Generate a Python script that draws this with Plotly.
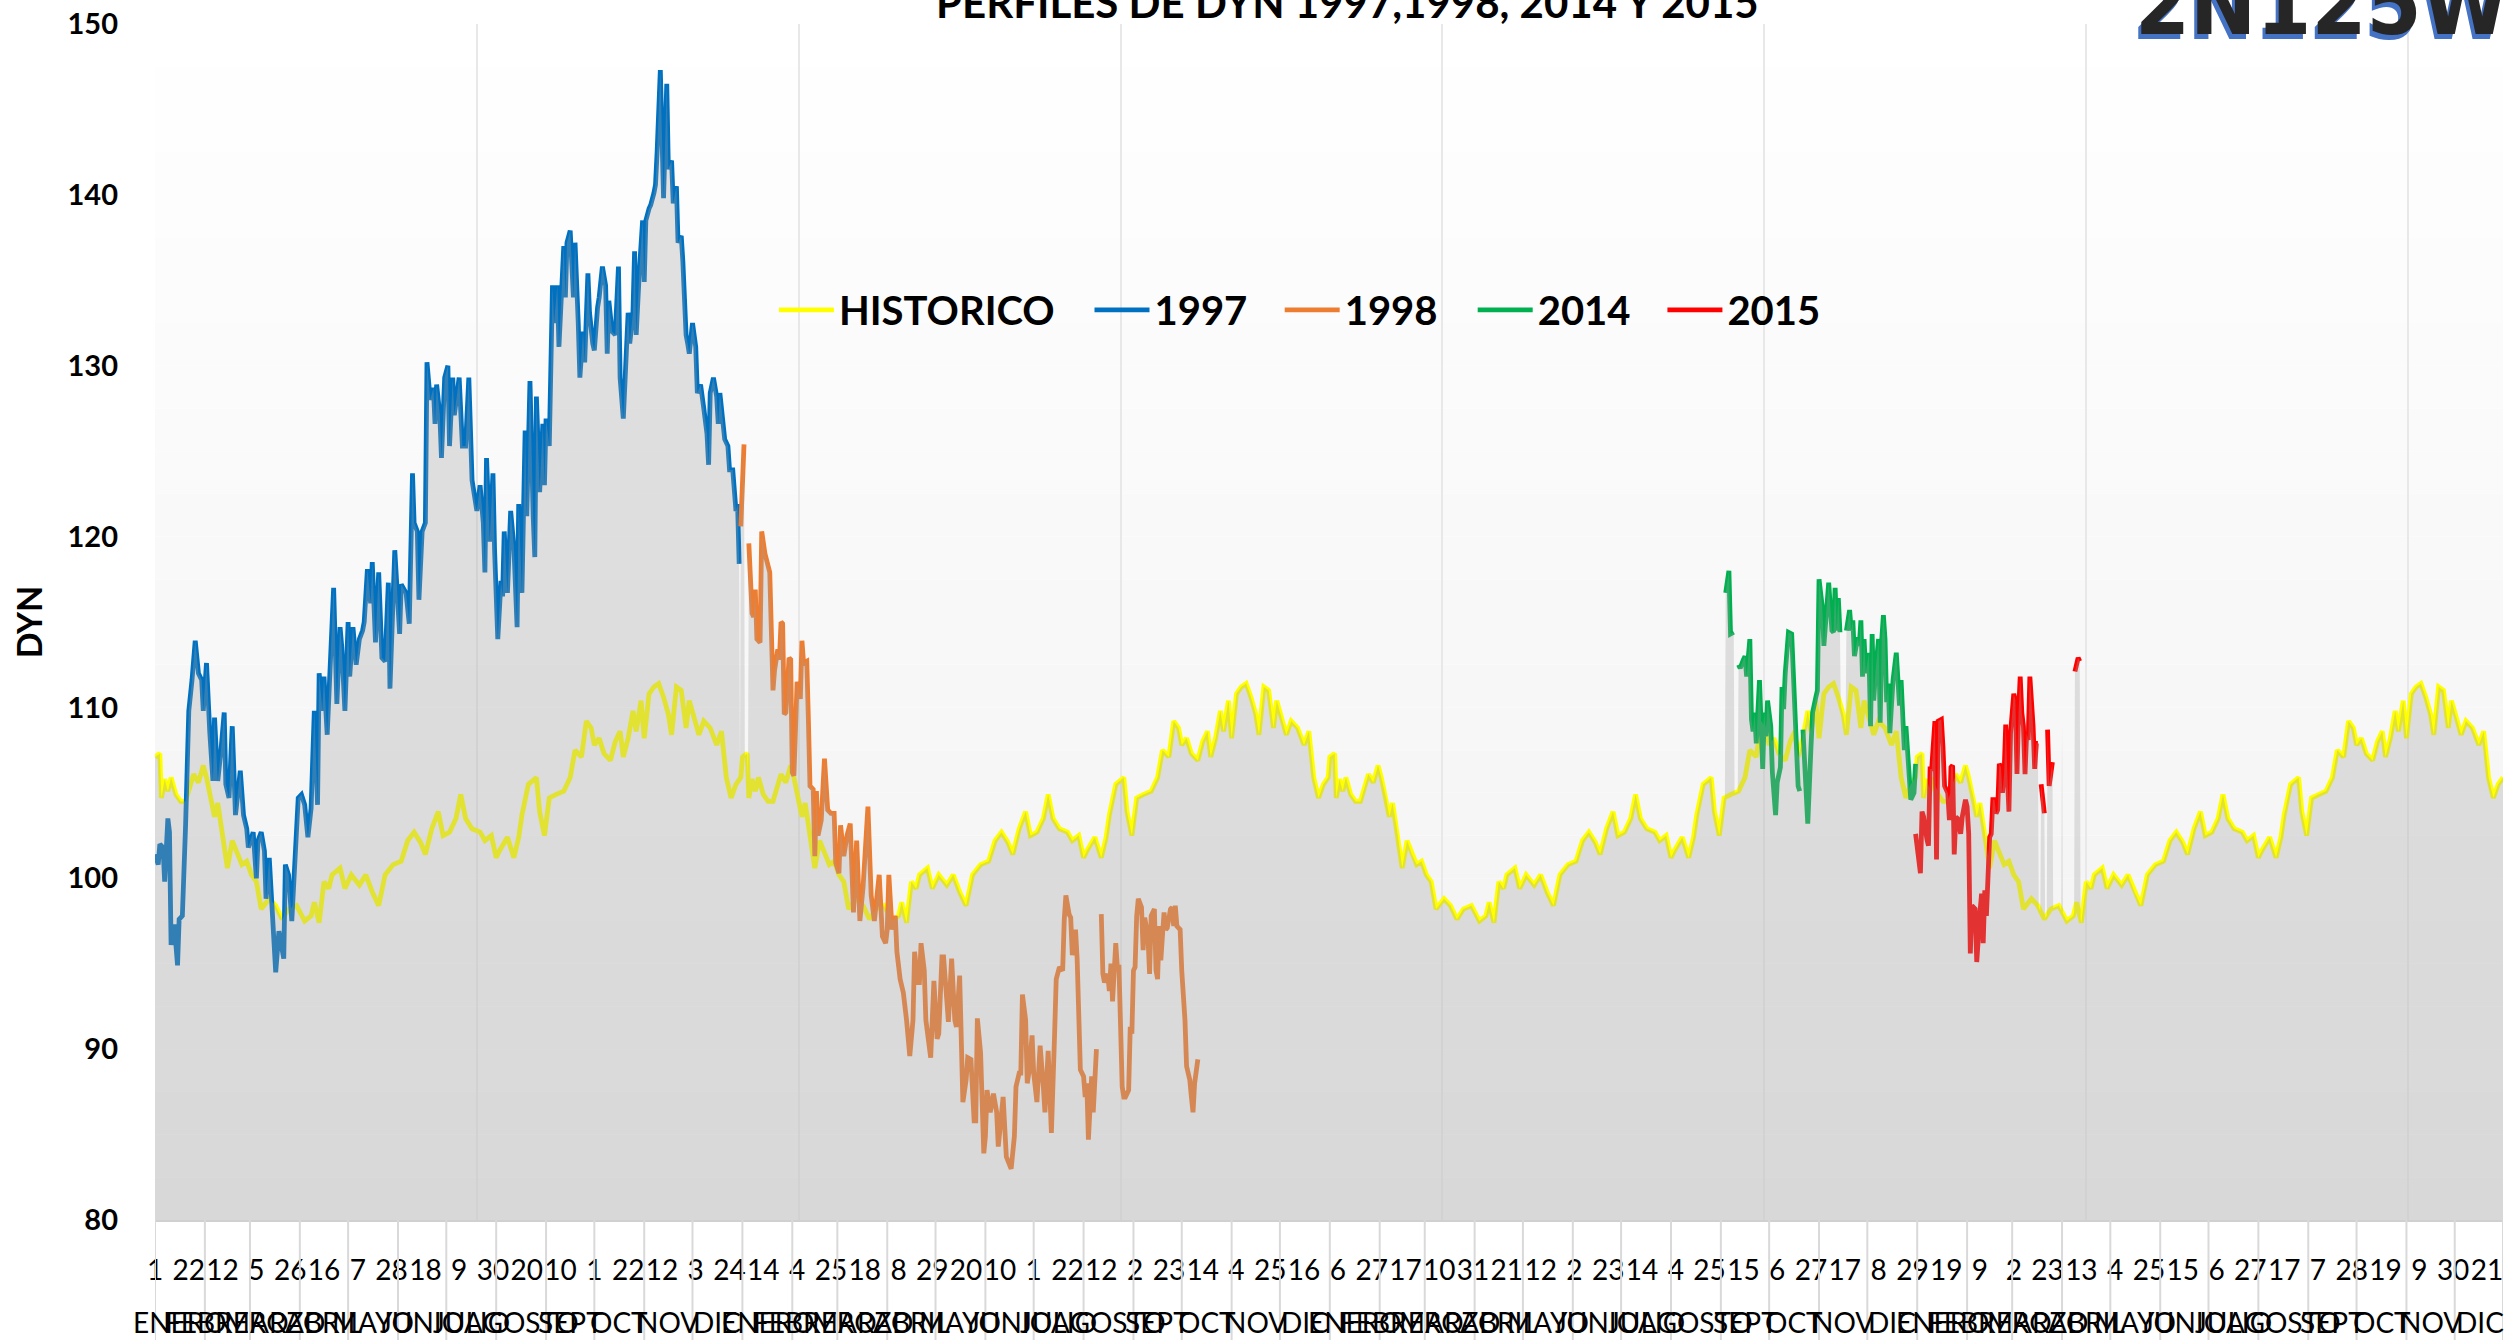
import numpy as np
import plotly.graph_objects as go

TITLE = "PERFILES DE DYN 1997,1998, 2014 Y 2015"
LOGO = "2N125W"
Y_TITLE = "DYN"

# ---------------- data (day index, DYN value); None = missing value ----------------
# HISTORICO: day of year -> value (same climatology every year)
HIST = [(0,107.1),(3,107.3),(4,104.7),(6,105.8),(8,105.1),(10,105.9),(13,104.9),(16,104.5),(19,104.5),
        (24,106.1),(27,105.6),(30,106.6),(32,105.9),(35,104.7),(37,103.6),(39,104.4),(42,102.7),(45,100.6),
        (48,102.2),(51,101.4),(54,100.8),(57,101.0),(60,100.2),(63,99.8),(66,98.2),(71,98.8),(75,98.4),
        (79,97.6),(83,98.2),(88,98.4),(93,97.5),(97,97.8),(99,98.6),(102,97.4),(105,99.8),(108,99.4),
        (110,100.2),(115,100.6),(118,99.4),(122,100.2),(127,99.6),(131,100.2),(135,99.2),(139,98.4),
        (143,100.2),(148,100.8),(153,101.0),(157,102.2),(161,102.7),(165,102.1),(168,101.4),(172,102.9),
        (176,103.9),(179,102.5),(183,102.7),(187,103.5),(190,104.9),(193,103.5),(197,102.9),(202,102.7),
        (205,102.2),(209,102.5),(212,101.2),(214,101.6),(219,102.4),(223,101.2),(226,102.4),(228,103.7),
        (232,105.5),(237,105.9),(239,103.9),(242,102.5),(245,104.7),(249,104.9),(254,105.1),(258,105.9),
        (261,107.5),(265,107.1),(268,109.2),(271,108.8),(273,107.8),(276,108.2),(279,107.3),(283,106.9),
        (286,108.0),(289,108.6),(291,107.1),(294,108.2),(297,109.8),(299,108.6),(302,110.4),(304,108.2),
        (307,110.8),(310,111.2),(313,111.4),(316,110.6),(319,109.6),(321,108.4),(324,111.2),(327,111.0),
        (330,108.8),(332,110.4),(335,109.4),(338,108.4),(341,109.2),(345,108.8),(349,107.8),(352,108.6),
        (355,105.9),(358,104.7),(361,105.5),(364,105.9)]

S1997 = [(0,101.4),(2,100.8),(3,102.0),(5,101.8),(6,99.8),(8,103.5),(9,102.7),(10,96.1),(12,97.3),(14,94.9),
         (15,97.6),(17,97.8),(19,103.1),(21,109.8),(23,111.6),(25,113.9),(27,112.0),(29,111.6),(30,109.8),
         (32,112.6),(34,108.6),(36,105.7),(37,109.4),(39,105.7),(41,107.5),(43,109.7),(44,105.5),(46,104.7),
         (48,108.9),(50,103.7),(53,106.3),(55,103.7),(57,102.9),(58,101.8),(61,102.7),(63,100.0),(64,102.2),
         (66,102.7),(68,101.6),(69,98.8),(71,101.2),(73,97.8),(75,94.5),(77,96.9),(80,95.3),(81,100.8),
         (83,100.2),(85,97.5),(87,101.2),(89,104.7),(91,104.9),(93,104.3),(95,102.4),(97,104.1),(99,109.8),
         (101,104.3),(102,112.0),(104,109.8),(105,111.8),(107,108.4),(111,117.0),(113,110.2),(115,114.7),
         (116,113.6),(118,109.8),(120,115.0),(121,111.8),(123,114.7),(125,112.5),(127,114.0),(129,114.5),
         (130,115.0),(132,118.1),(134,116.1),(135,118.5),(137,113.8),(139,117.9),(141,112.9),(143,112.7),
         (145,117.3),(146,111.1),(148,117.0),(149,119.2),(152,114.3),(153,117.2),(156,116.7),(158,114.9),
         (160,123.7),(161,120.8),(163,120.3),(164,116.3),(166,120.3),(168,120.8),(169,130.2),(171,128.0),
         (173,128.7),(174,126.6),(175,128.9),(177,127.1),(178,124.6),(180,129.3),(182,130.0),(183,125.3),
         (185,129.3),(186,127.1),(189,129.3),(191,125.3),(193,125.3),(195,129.3),(197,123.3),(199,121.9),
         (200,121.5),(202,123.0),(204,120.8),(205,117.9),(206,124.6),(208,119.7),(210,123.7),(211,119.2),
         (213,114.0),(215,117.4),(216,116.5),(217,120.3),(219,116.7),(221,121.5),(223,119.4),(225,114.7),
         (226,121.9),(228,116.7),(230,126.2),(231,121.2),(233,129.1),(235,121.2),(236,118.8),(237,128.2),
         (239,122.6),(241,126.6),(242,123.0),(243,126.9),(245,125.3),(247,134.7),(248,132.5),(250,134.7),
         (251,131.1),(254,137.0),(255,134.0),(256,137.2),(258,137.9),(260,134.0),(261,137.2),(263,132.5),
         (264,129.3),(266,132.0),(267,130.2),(269,135.4),(270,133.1),(272,131.3),(273,130.9),(275,133.4),
         (276,134.0),(278,135.8),(280,134.7),(281,130.7),(282,133.8),(284,132.0),(286,131.8),(288,135.8),
         (289,129.3),(291,126.9),(293,131.6),(294,133.1),(295,131.3),(297,133.1),(298,136.7),(299,131.8),
         (301,135.6),(303,138.5),(304,134.9),(305,138.5),(307,139.2),(308,139.4),(310,140.1),(311,140.6),
         (312,142.5),(314,147.3),(316,139.8),(318,146.5),(319,141.5),(321,142.0),(322,139.5),(324,140.5),
         (325,137.2),(327,137.6),(328,136.1),(330,131.8),(331,131.3),(332,130.7),(334,132.5),(336,131.1),
         (337,128.4),(339,128.9),(341,127.5),(343,126.0),(344,124.2),(345,128.4),(347,129.3),(349,128.2),
         (350,126.6),(351,128.4),(353,126.6),(354,125.7),(356,125.3),(357,123.9),(359,123.9),(361,121.5),
         (362,121.9),(363,118.4)]

S1998 = [(364,120.6),(366,125.4),(368,None),(369,119.6),(371,115.5),(372,115.3),(373,116.9),(374,114.0),
         (376,113.8),(377,120.3),(379,119.0),(382,117.9),(384,111.0),(385,112.2),(387,113.4),(388,112.8),
         (389,115.0),(390,114.9),(391,109.6),(392,109.7),(394,112.9),(395,112.8),(396,106.2),(397,106.0),
         (399,111.5),(401,110.5),(402,113.9),(403,112.6),(405,112.7),(406,109.3),(407,105.4),(409,105.2),
         (410,101.3),(411,105.1),(412,102.5),(414,103.4),(416,107.0),(418,104.0),(420,103.8),(422,103.8),
         (423,100.9),(425,100.3),(426,103.1),(428,101.3),(430,102.5),(432,103.2),(434,98.0),(436,102.2),
         (438,97.5),(440,99.5),(443,104.2),(445,99.0),(447,97.5),(450,100.2),(452,96.6),(454,96.2),
         (455,97.0),(456,100.2),(458,97.0),(460,97.8),(461,95.7),(463,94.1),(465,93.3),(467,91.7),(469,89.6),
         (471,91.7),(472,95.7),(474,93.9),(475,93.9),(476,96.2),(478,94.6),(479,91.7),(482,89.5),(484,94.0),
         (486,90.6),(487,90.9),(489,95.4),(490,95.4),(492,93.3),(493,91.6),(495,95.3),(497,91.7),(498,91.3),
         (500,94.3),(502,86.9),(504,88.2),(505,89.5),(507,89.4),(509,85.8),(510,85.8),(511,91.8),(513,89.8),
         (515,83.9),(516,84.9),(517,87.6),(519,86.3),(521,87.4),(523,86.3),(524,84.3),(526,86.3),(527,87.2),
         (529,83.7),(530,83.5),(532,83.0),(534,84.9),(535,87.8),(537,88.6),(538,88.6),(539,93.2),(541,91.7),
         (542,88.0),(543,88.6),(545,90.8),(546,88.6),(548,86.9),(550,90.2),(552,87.8),(553,86.3),(555,89.9),
         (556,88.0),(557,85.1),(559,90.9),(560,94.1),(562,94.8),(564,94.6),(565,97.6),(566,99.0),(568,97.9),
         (569,97.7),(570,95.5),(572,97.0),(573,95.3),(575,88.8),(577,88.4),(578,87.2),(579,88.0),(580,84.7),
         (582,88.4),(583,86.3),(585,90.0),(586,None),(588,97.9),(589,94.4),(590,93.9),(592,94.4),(593,93.4),
         (594,95.0),(595,92.8),(596,94.4),(597,96.2),(598,94.8),(599,94.8),(601,87.8),(602,87.2),(603,87.2),
         (605,87.6),(606,91.3),(607,90.9),(608,94.6),(609,94.8),(610,97.8),(611,98.8),(613,98.3),(614,95.8),
         (615,97.7),(617,96.6),(618,94.4),(619,97.8),(621,98.2),(622,94.6),(623,94.1),(624,97.2),(625,95.2),
         (627,98.0),(628,97.0),(629,97.1),(631,98.2),(632,98.3),(633,97.2),(634,98.4),(635,97.2),(637,97.0),
         (638,94.6),(640,91.7),(641,89.0),(643,88.2),(644,87.2),(645,86.3),(646,88.0),(647,89.1),(648,89.4)]

S2014 = [(976,116.7),(978,118.0),(979,114.3),(981,114.4),(982,None),(984,112.5),(985,112.3),(987,112.8),
         (988,113.0),(989,111.8),(991,114.0),(992,109.3),(993,108.6),(994,109.7),(995,107.9),(997,111.6),
         (999,106.4),(1000,109.7),(1001,108.3),(1002,110.4),(1004,108.9),(1005,106.2),(1007,103.7),
         (1008,105.6),(1010,106.5),(1011,111.2),(1012,109.9),(1013,112.0),(1014,113.0),(1015,114.4),
         (1017,114.3),(1018,111.6),(1019,109.7),(1021,105.4),(1022,105.1),(1023,None),(1024,108.7),
         (1025,106.3),(1027,103.2),(1029,107.7),(1030,109.7),(1032,110.6),(1033,111.0),(1034,117.5),
         (1036,115.9),(1037,113.6),(1038,115.0),(1040,117.3),(1041,115.9),(1042,114.5),(1043,114.4),
         (1044,117.0),(1045,114.5),(1046,116.4),(1047,114.4),(1049,None),(1051,114.5),(1053,115.7),
         (1054,114.5),(1055,115.1),(1056,113.0),(1058,114.1),(1059,113.6),(1060,115.1),(1061,111.8),
         (1062,114.0),(1063,112.0),(1065,113.2),(1066,108.9),(1067,114.3),(1068,110.4),(1069,112.0),
         (1071,114.0),(1072,109.1),(1073,114.0),(1074,115.4),(1075,114.0),(1076,110.3),(1077,111.4),
         (1078,108.5),(1079,110.1),(1080,111.6),(1082,113.2),(1083,111.6),(1084,110.1),(1085,111.6),
         (1087,107.5),(1088,108.9),(1089,107.5),(1090,105.2),(1091,104.6),(1093,105.0),(1094,106.7)]

S2015 = [(1094,102.6),(1096,101.1),(1097,100.3),(1098,103.9),(1099,103.6),(1101,102.3),(1102,101.9),
         (1103,106.4),(1104,106.4),(1106,109.2),(1107,101.1),(1108,109.2),(1110,109.3),(1111,107.7),
         (1112,105.4),(1114,105.0),(1115,103.4),(1116,106.5),(1117,106.6),(1118,101.4),(1119,103.6),
         (1120,103.5),(1122,102.6),(1123,103.6),(1125,104.6),(1126,104.2),(1127,102.6),(1128,95.6),
         (1129,98.4),(1131,98.2),(1132,95.1),(1134,98.0),(1135,99.1),(1136,96.2),(1137,99.3),(1138,97.8),
         (1139,101.1),(1140,102.4),(1141,102.6),(1142,104.6),(1143,104.6),(1144,103.8),(1145,104.0),
         (1146,106.7),(1147,106.5),(1148,105.0),(1149,106.1),(1150,109.0),(1151,106.1),(1152,103.9),
         (1153,108.5),(1155,110.8),(1156,110.4),(1157,106.1),(1158,109.7),(1159,111.8),(1160,109.7),
         (1161,108.9),(1162,106.1),(1163,108.5),(1164,108.1),(1165,111.8),(1167,108.9),(1168,106.4),
         (1169,107.9),(1170,107.9),(1171,None),(1172,105.5),(1174,103.8),(1175,None),(1176,108.7),
         (1177,105.4),(1179,106.8),(1180,None),(1184,None),(1185,109.1),(1186,None),(1192,None),
         (1193,112.1),(1195,112.9),(1196,112.7)]

TICK_TEXT = ["1","22","12","5","26","16","7","28","18","9","30","20","10","1","22","12","3","24",
             "14","4","25","18","8","29","20","10","1","22","12","2","23","14","4","25","16",
             "6","27","17","10","31","21","12","2","23","14","4","25","15","6","27","17","8","29",
             "19","9","2","23","13","4","25","15","6","27","17","7","28","19","9","30","21"]
MONTHS = ["ENERO","FEBRERO","MARZO","ABRIL","MAYO","JUNIO","JULIO","AGOSTO","SEPT","OCT","NOV","DIC"]
MONTH_START = [0,31,59,90,120,151,181,212,243,273,304,334]
YEAR_DAYS = 365
N_YEARS = 4
TICK_STEP = 21
Y_MIN, Y_MAX = 80, 150

SERIES = [("HISTORICO", "#FFFF00"), ("1997", "#0070C0"), ("1998", "#ED7D31"),
          ("2014", "#00B050"), ("2015", "#FF0000")]
# left edge (paper fraction) of each legend entry
LEGEND_X = [0.2636, 0.3980, 0.4790, 0.5612, 0.6420]

# ---------------- build ----------------
hist_pts = [(d + YEAR_DAYS * k, v) for k in range(N_YEARS) for d, v in HIST]
data = {"HISTORICO": hist_pts, "1997": S1997, "1998": S1998, "2014": S2014, "2015": S2015}
N_DAYS = YEAR_DAYS * N_YEARS
X_MAX = N_DAYS - 1

FONT = "Lato, 'Open Sans', Arial, sans-serif"

fig = go.Figure()

legend_names = ["legend", "legend2", "legend3", "legend4", "legend5"]
for (name, color), lg in zip(SERIES, legend_names):
    pts = data[name]
    fig.add_trace(go.Scatter(
        x=[p[0] for p in pts], y=[p[1] for p in pts], name=name, mode="lines", legend=lg,
        line=dict(color=color, width=4.8), connectgaps=False, hoverinfo="skip"))

# translucent grey area under the upper envelope of all series (drawn over the lines)
grid = np.arange(0, X_MAX + 0.001, 0.5)
env = np.full(grid.shape, -1.0)
for name, _ in SERIES:
    pts = data[name]
    xs = np.array([p[0] for p in pts], float)
    ys = np.array([0.0 if p[1] is None else p[1] for p in pts], float)
    m = (grid >= xs.min()) & (grid <= xs.max())
    env[m] = np.maximum(env[m], np.interp(grid[m], xs, ys))
fig.add_trace(go.Scatter(x=grid, y=env, mode="none", fill="tozeroy",
                         fillcolor="rgba(160,160,160,0.31)", showlegend=False, hoverinfo="skip"))

shapes = []
# background vertical gradient (white at top -> light grey at bottom)
n_bands = 28
for i in range(n_bands):
    y0 = Y_MIN + (Y_MAX - Y_MIN) * i / n_bands
    y1 = Y_MIN + (Y_MAX - Y_MIN) * (i + 1) / n_bands
    t = (i + 0.5) / n_bands
    c = int(round(241 + (255 - 241) * t))
    shapes.append(dict(type="rect", xref="paper", x0=0, x1=1, yref="y", y0=y0, y1=y1,
                       fillcolor=f"rgb({c},{c},{c})", line=dict(width=0), layer="below"))
# month separators under the axis
for k in range(N_YEARS):
    for ms in MONTH_START:
        xd = ms + YEAR_DAYS * k
        shapes.append(dict(type="line", xref="x", x0=xd, x1=xd, yref="paper", y0=0, y1=-0.11,
                           line=dict(color="#d9d9d9", width=2)))
shapes.append(dict(type="line", xref="x", x0=X_MAX, x1=X_MAX, yref="paper", y0=0, y1=-0.11,
                   line=dict(color="#d9d9d9", width=2)))

annotations = []
for k in range(N_YEARS):
    for i, mname in enumerate(MONTHS):
        start = MONTH_START[i] + YEAR_DAYS * k
        end = (MONTH_START[i + 1] if i + 1 < 12 else YEAR_DAYS) + YEAR_DAYS * k
        annotations.append(dict(text=mname, x=(start + end) / 2, xref="x", y=-0.0855, yref="paper",
                                showarrow=False, xanchor="center", yanchor="middle",
                                font=dict(family=FONT, size=28, color="black")))
annotations.append(dict(text=TITLE, x=0.508, xref="paper", y=0.9955, yref="paper", showarrow=False,
                        xanchor="center", yanchor="bottom",
                        font=dict(family=FONT, size=42, color="black", weight="bold")))
annotations.append(dict(text=LOGO, x=0.8425, xref="paper", y=0.972, yref="paper", showarrow=False,
                        xanchor="left", yanchor="bottom",
                        font=dict(family="'DejaVu Sans Condensed', 'Liberation Sans Narrow', Lato, sans-serif",
                                  size=88, color="#262626", weight="bold",
                                  shadow="-3px 5px 0px #4472C4")))

legend_style = dict(orientation="h", xanchor="left", y=0.761, yanchor="middle",
                    bgcolor="rgba(0,0,0,0)", itemwidth=55,
                    font=dict(family=FONT, size=40, color="black", weight="bold"))
legend_layout = {lg: dict(legend_style, x=lx) for lg, lx in zip(legend_names, LEGEND_X)}

fig.update_layout(
    width=2509, height=1340,
    margin=dict(l=155, r=6, t=24, b=120, autoexpand=False),
    paper_bgcolor="white", plot_bgcolor="white",
    font=dict(family=FONT, color="black"),
    showlegend=True,
    shapes=shapes, annotations=annotations,
    xaxis=dict(range=[0, X_MAX], tickmode="array",
               tickvals=[TICK_STEP * k for k in range(len(TICK_TEXT))], ticktext=TICK_TEXT,
               tickangle=0,
               tickfont=dict(family=FONT, size=28, color="black"), ticks="", ticklabelstandoff=24,
               showline=True, linecolor="#d0d0d0", linewidth=2, showgrid=False, zeroline=False,
               minor=dict(tickvals=[200, 400, 600, 800, 1000, 1200, 1400], showgrid=True,
                          gridcolor="#e8e8e8", gridwidth=1.5, ticks=""),
               automargin=False),
    yaxis=dict(range=[Y_MIN, Y_MAX], tickmode="array", tickvals=list(range(Y_MIN, Y_MAX + 1, 10)),
               tickfont=dict(family=FONT, size=29, color="black", weight="bold"), ticks="",
               ticklabelstandoff=36, showgrid=False, zeroline=False, showline=False,
               title=dict(text=Y_TITLE, font=dict(family=FONT, size=34, color="black", weight="bold"),
                          standoff=14),
               automargin=False),
    **legend_layout,
)

fig.write_html("out.html", include_plotlyjs=True, config={"displayModeBar": False},
               post_script="document.body.style.margin='0';document.body.style.overflow='hidden';")
